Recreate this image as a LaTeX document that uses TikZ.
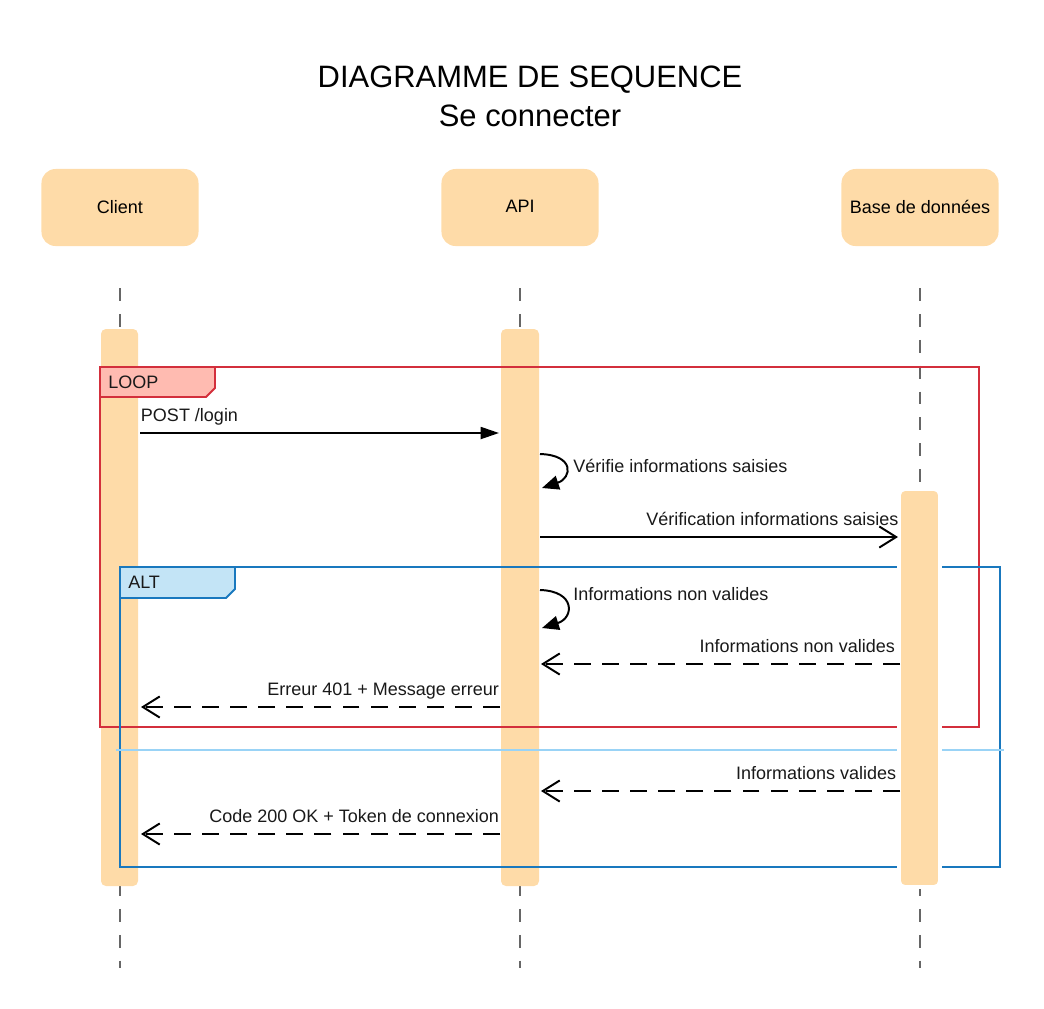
\documentclass[tikz,border=0pt]{standalone}
\usepackage{fontspec}
\setmainfont{Liberation Sans}
\usepackage{tikz}
\usepackage{xcolor}
\usetikzlibrary{arrows.meta}

\definecolor{barfill}{RGB}{254,219,168}
\definecolor{loopred}{RGB}{211,47,60}
\definecolor{looptab}{RGB}{255,187,177}
\definecolor{altblue}{RGB}{25,120,190}
\definecolor{alttab}{RGB}{195,228,246}
\definecolor{altsep}{RGB}{153,211,246}
\definecolor{lifegray}{RGB}{102,102,102}

\begin{document}
\begin{tikzpicture}[x=0.025cm, y=-0.025cm,
	participant/.style={rectangle, rounded corners=10pt, fill=barfill, minimum width=3.925cm, minimum height=1.925cm, font=\fontsize{12.8}{15}\selectfont},
	lifeline/.style={draw=lifegray, line width=1.4pt, dash pattern=on 9.2pt off 9.2pt},
	msg/.style={line width=1.4pt, -{Triangle[length=13pt, width=8.5pt]}},
	msgopen/.style={line width=1.4pt, -{Straight Barb[length=12pt, width=15pt]}},
	reply/.style={line width=1.4pt, dash pattern=on 12pt off 8pt, -{Straight Barb[length=12pt, width=15pt]}},
	self/.style={line width=1.4pt, -{Triangle[length=12pt, width=10pt]}},
	lbl/.style={font=\fontsize{12.8}{15}\selectfont, inner sep=0pt, text=black!90}]
	\useasboundingbox (0,0) rectangle (1044,1008);
	% titre
	\node[anchor=base, font=\fontsize{22}{26}\selectfont] (title) at (530,87) {DIAGRAMME DE SEQUENCE};
	\node[anchor=base, font=\fontsize{22}{26}\selectfont] (subtitle) at (530,126) {Se connecter};
	% participants
	\node[participant] (client) at (120,207.5) {\raisebox{1.4pt}{Client}};
	\node[participant] (api) at (520,207.5) {\raisebox{1.4pt}{API}};
	\node[participant] (bdd) at (920,207.5) {\raisebox{1.4pt}{Base de donn\'ees}};
	\draw[lifeline] (120,288) -- (120,968);
	\draw[lifeline] (520,288) -- (520,968);
	\draw[lifeline] (920,288) -- (920,968);
	\fill[barfill, rounded corners=3.5pt] (101,329) rectangle (138,886);
	\fill[barfill, rounded corners=3.5pt] (501,329) rectangle (539,886);
	% LOOP
	\draw[loopred, line width=1.4pt] (100,367) rectangle (979,727);
	\draw[loopred, line width=1.4pt, fill=looptab] (100,367) -- (215,367) -- (215,388) -- (206,397) -- (100,397) -- cycle;
	\node[lbl, anchor=base west] (loop) at (108,388) {LOOP};
	% ALT
	\draw[altblue, line width=1.4pt] (120,567) rectangle (1000,867);
	\draw[altblue, line width=1.4pt, fill=alttab] (120,567) -- (235,567) -- (235,589) -- (226,598) -- (120,598) -- cycle;
	\node[lbl, anchor=base west] (alt) at (128,588) {ALT};
	\draw[altsep, line width=1.4pt] (116,750) -- (1004,750);
	\filldraw[fill=barfill, draw=white, line width=2.8pt, rounded corners=4pt] (899,489) rectangle (940,887);
	% messages
	\coordinate (c1) at (140,433);
	\coordinate (a1) at (499,433);
	\coordinate (a2) at (540,454);
	\coordinate (a3) at (542,488);
	\coordinate (a4) at (540,537);
	\coordinate (b1) at (898,537);
	\coordinate (a5) at (540,590);
	\coordinate (a6) at (542,628);
	\coordinate (b2) at (900,664);
	\coordinate (a7) at (541,664);
	\coordinate (a8) at (500,707);
	\coordinate (c2) at (141,707);
	\coordinate (b3) at (900,791);
	\coordinate (a9) at (541,791);
	\coordinate (a10) at (500,834);
	\coordinate (c3) at (141,834);
	\draw[msg] (c1) -- (a1) node[lbl, at start, anchor=base west, yshift=0.28cm] {POST /login};
	\draw[self] (a2) .. controls +(35,1) and +(30,-10) .. (a3);
	\node[lbl, anchor=base west] (verif) at (573,472) {V\'erifie informations saisies};
	\draw[msgopen] (a4) -- (b1) node[lbl, at end, anchor=base east, xshift=1pt, yshift=0.28cm] {V\'erification informations saisies};
	\draw[self] (a5) .. controls +(36,1) and +(32,-10) .. (a6);
	\node[lbl, anchor=base west] (nonval) at (573,600) {Informations non valides};
	\draw[reply] (b2) -- (a7) node[lbl, at start, anchor=base east, xshift=-3pt, yshift=0.3cm] {Informations non valides};
	\draw[reply] (a8) -- (c2) node[lbl, at start, anchor=base east, yshift=0.28cm] {Erreur 401 + Message erreur};
	\draw[reply] (b3) -- (a9) node[lbl, at start, anchor=base east, xshift=-2pt, yshift=0.3cm] {Informations valides};
	\draw[reply] (a10) -- (c3) node[lbl, at start, anchor=base east, yshift=0.28cm] {Code 200 OK + Token de connexion};
\end{tikzpicture}
\end{document}
